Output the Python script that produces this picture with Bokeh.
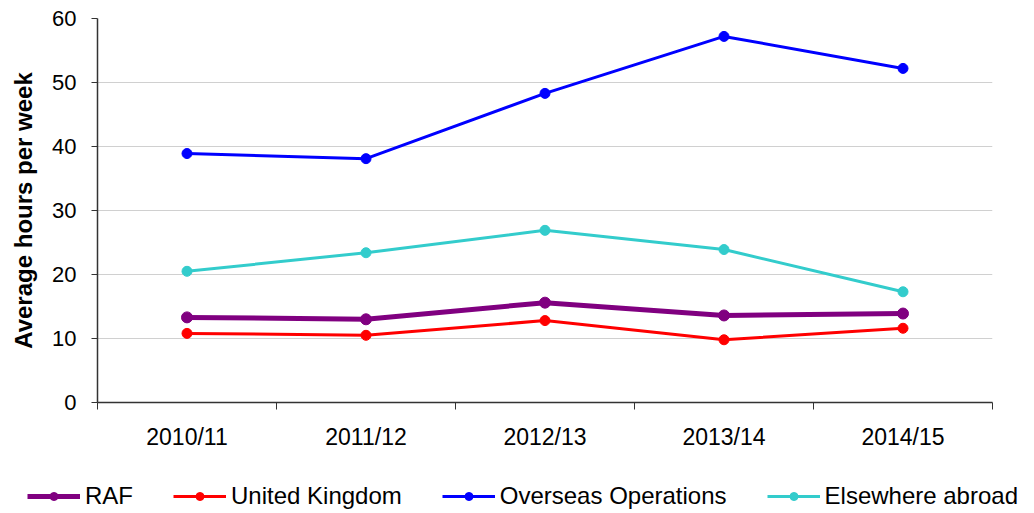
from bokeh.plotting import figure
from bokeh.layouts import column
from bokeh.models import (FixedTicker, Range1d, Legend, LegendItem)
from bokeh.embed import file_html
from bokeh.resources import INLINE

years = ["2010/11", "2011/12", "2012/13", "2013/14", "2014/15"]
raf = [13.3, 13.0, 15.6, 13.6, 13.9]
uk = [10.8, 10.5, 12.8, 9.8, 11.6]
overseas = [38.9, 38.1, 48.3, 57.2, 52.2]
elsewhere = [20.5, 23.4, 26.9, 23.9, 17.3]
y_ticks = [0, 10, 20, 30, 40, 50, 60]

xs = [i + 0.5 for i in range(len(years))]

p = figure(width=1034, height=470, output_backend="svg", toolbar_location=None,
           x_range=Range1d(0, len(years)), y_range=Range1d(0, 60),
           min_border_left=97, min_border_right=42, min_border_top=18,
           min_border_bottom=68)
p.outline_line_color = None
p.background_fill_color = "white"

FONT = "Liberation Sans"

# x axis: labels at centers, ticks at boundaries
p.xaxis.ticker = FixedTicker(ticks=xs, minor_ticks=list(range(len(years) + 1)))
p.xaxis.major_label_overrides = {x: y for x, y in zip(xs, years)}
p.xaxis.major_tick_out = 0
p.xaxis.major_tick_in = 0
p.xaxis.minor_tick_out = 7
p.xaxis.minor_tick_in = 0
p.xaxis.minor_tick_line_color = "#333333"
p.xaxis.axis_line_color = "#333333"
p.xaxis.axis_line_width = 1.5
p.xaxis.major_label_text_font = FONT
p.xaxis.major_label_text_font_size = "23px"
p.xaxis.major_label_text_color = "black"
p.xaxis.major_label_standoff = 14

p.yaxis.ticker = FixedTicker(ticks=y_ticks, minor_ticks=[])
p.yaxis.major_tick_out = 6
p.yaxis.major_tick_in = 0
p.yaxis.major_tick_line_color = "#333333"
p.yaxis.axis_line_color = "#333333"
p.yaxis.axis_line_width = 1.5
p.yaxis.major_label_text_font = FONT
p.yaxis.major_label_text_font_size = "22px"
p.yaxis.major_label_text_color = "black"
p.yaxis.major_label_standoff = 15
p.yaxis.axis_label = "Average hours per week"
p.yaxis.axis_label_text_font = FONT
p.yaxis.axis_label_text_font_size = "24px"
p.yaxis.axis_label_text_font_style = "bold"
p.yaxis.axis_label_text_color = "black"
p.yaxis.axis_label_standoff = 12

p.xgrid.visible = False
p.ygrid.ticker = FixedTicker(ticks=y_ticks[1:])
p.ygrid.grid_line_color = "#d0d0d0"
p.ygrid.grid_line_width = 1

series = [
    ("RAF", raf, "#800080", 5, 11),
    ("United Kingdom", uk, "#ff0000", 3, 10),
    ("Overseas Operations", overseas, "#0000ff", 3, 10),
    ("Elsewhere abroad", elsewhere, "#33cccc", 3, 10),
]

# legend strip below the chart (its own glyphs lie outside its visible range)
pl = figure(width=1034, height=43, output_backend="svg", toolbar_location=None,
            x_range=Range1d(0, len(years)), y_range=Range1d(-2, -1),
            x_axis_type=None, y_axis_type=None,
            min_border_left=0, min_border_right=0, min_border_top=0, min_border_bottom=0)
pl.frame_align = False
pl.outline_line_color = None
pl.xgrid.visible = False
pl.ygrid.visible = False

items = []
for name, vals, col, lw, ms in series:
    p.line(xs, vals, line_color=col, line_width=lw)
    p.scatter(xs, vals, marker="circle", size=ms, fill_color=col, line_color=col)
    ll = pl.line(xs, vals, line_color=col, line_width=lw)
    ls = pl.scatter(xs, vals, marker="circle", size=ms, fill_color=col, line_color=col)
    items.append(LegendItem(label=name, renderers=[ll, ls]))

legend = Legend(items=items, orientation="horizontal", location=(27, 3),
                label_text_font=FONT, label_text_font_size="24px",
                label_text_color="black", glyph_width=53, glyph_height=20,
                label_standoff=5, spacing=40, padding=0, margin=0,
                border_line_color=None, background_fill_alpha=0)
pl.add_layout(legend, "center")

layout = column(p, pl, spacing=0)
open("out.html", "w").write(file_html(layout, INLINE))
